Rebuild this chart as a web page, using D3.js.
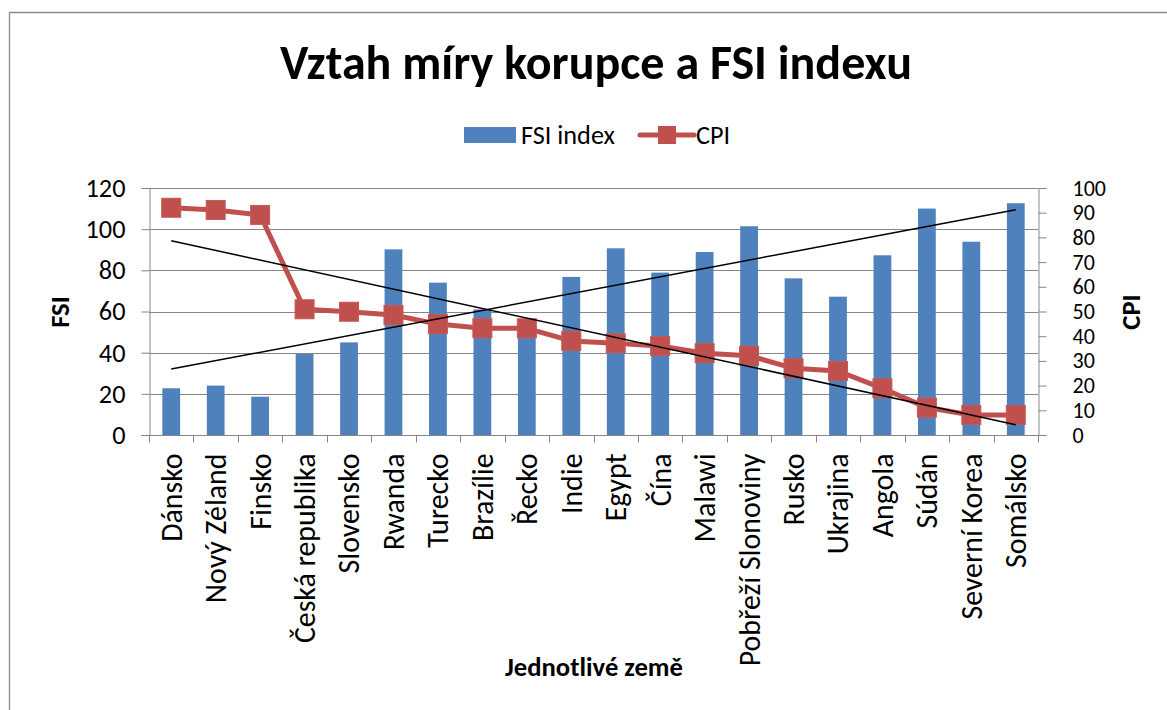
<!DOCTYPE html>
<html><head><meta charset="utf-8">
<script src="https://cdn.jsdelivr.net/npm/d3@7"></script>
<style>
html,body{margin:0;padding:0;background:#fff;}
svg{display:block;}
text{font-family:Carlito, Lato, "Open Sans", sans-serif;fill:#000;}
</style></head>
<body>
<svg id="chart" width="1167" height="710"></svg>
<script>
const categories = ["Dánsko","Nový Zéland","Finsko","Česká republika","Slovensko","Rwanda","Turecko","Brazílie","Řecko","Indie","Egypt","Čína","Malawi","Pobřeží Slonoviny","Rusko","Ukrajina","Angola","Súdán","Severní Korea","Somálsko"];
const fsiValues = [22.7,24.0,18.6,39.4,45.0,90.2,74.0,61.0,56.0,76.8,90.7,78.9,88.9,101.4,76.1,67.2,87.3,110.0,93.9,112.6];
const cpiValues = [92.0,91.1,89.1,50.9,49.9,48.6,44.9,43.2,43.2,38.1,37.1,36.0,33.1,32.1,27.0,25.9,18.9,11.1,8.1,8.1];
const fsiTicks = [0,20,40,60,80,100,120];
const cpiTicks = [0,10,20,30,40,50,60,70,80,90,100];
const titleText = "Vztah míry korupce a FSI indexu";
const seriesNames = ["FSI index","CPI"];
const axisTitles = {left:"FSI", right:"CPI", bottom:"Jednotlivé země"};

const BLUE = "#4F81BD", RED = "#C0504D", GRID = "#868686";
const svg = d3.select("#chart");

function fitSize(str, target, weight, base){
  const t = svg.append("text").attr("font-size", base).attr("font-weight", weight).text(str);
  const w = t.node().getComputedTextLength();
  t.remove();
  return base * target / w;
}

const plot = {left:149, right:1038, top:188, bottom:435};

// outer border
svg.append("path").attr("d", `M9.5,720 L9.5,12.5 L1180,12.5`).attr("fill","none").attr("stroke","#8c8c8c").attr("stroke-width",1.3);

const x = d3.scaleBand().domain(categories).range([plot.left, plot.right]).padding(0);
const yL = d3.scaleLinear().domain([0,120]).range([plot.bottom, plot.top]);
const yR = d3.scaleLinear().domain([0,100]).range([plot.bottom, plot.top]);

const tickSizeL = fitSize("120", 40, "normal", 20);
const tickSizeR = Math.min(tickSizeL, 22);
const catSize = fitSize("Pobřeží Slonoviny", 213, "normal", 20);

// gridlines
svg.append("g").selectAll("line").data(fsiTicks.filter(d=>d>0)).join("line")
  .attr("x1", plot.left).attr("x2", plot.right)
  .attr("y1", d=>Math.round(yL(d))+0.5).attr("y2", d=>Math.round(yL(d))+0.5)
  .attr("stroke", GRID).attr("stroke-width",1);

// left axis
const gL = svg.append("g").attr("transform",`translate(${plot.left+0.5},0)`)
  .call(d3.axisLeft(yL).tickValues(fsiTicks).tickSize(8).tickPadding(16));
gL.select(".domain").attr("stroke",GRID);
gL.selectAll(".tick line").attr("stroke",GRID);
gL.selectAll(".tick text").attr("font-size",tickSizeL).attr("font-family","Carlito, Lato, sans-serif").attr("fill","#000");

// right axis
const gR = svg.append("g").attr("transform",`translate(${plot.right+0.5},0)`)
  .call(d3.axisRight(yR).tickValues(cpiTicks).tickSize(8).tickPadding(26));
gR.select(".domain").attr("stroke",GRID);
gR.selectAll(".tick line").attr("stroke",GRID);
gR.selectAll(".tick text").attr("font-size",tickSizeR).attr("font-family","Carlito, Lato, sans-serif").attr("fill","#000");

// bars
const barW = x.step()*0.4;
svg.append("g").selectAll("rect").data(categories).join("rect")
  .attr("x", d=>x(d)+x.bandwidth()/2-barW/2)
  .attr("width", barW)
  .attr("y", (d,i)=>yL(fsiValues[i]))
  .attr("height", (d,i)=>plot.bottom - yL(fsiValues[i]))
  .attr("fill", BLUE);

// bottom axis
const gB = svg.append("g").attr("transform",`translate(0,${plot.bottom+0.5})`);
gB.append("line").attr("x1",plot.left-8).attr("x2",plot.right+8).attr("stroke",GRID);
const bTicks = d3.range(categories.length+1).map(i=>plot.left + i*x.step());
gB.selectAll(".bt").data(bTicks).join("line").attr("class","bt")
  .attr("x1",d=>Math.round(d)+0.5).attr("x2",d=>Math.round(d)+0.5).attr("y1",0).attr("y2",7).attr("stroke",GRID);
gB.selectAll(".cl").data(categories).join("text").attr("class","cl")
  .attr("transform", d=>`translate(${x(d)+x.bandwidth()/2},18) rotate(-90)`)
  .attr("text-anchor","end").attr("dy","0.35em")
  .attr("font-size", catSize).text(d=>d);

// CPI line
const cx = d => x(d)+x.bandwidth()/2;
svg.append("path").datum(categories)
  .attr("d", d3.line().x(d=>cx(d)).y((d,i)=>yR(cpiValues[i])))
  .attr("fill","none").attr("stroke",RED).attr("stroke-width",5).attr("stroke-linejoin","round");
const ms = 19;
svg.append("g").selectAll("rect").data(categories).join("rect")
  .attr("x", d=>cx(d)-ms/2).attr("y",(d,i)=>yR(cpiValues[i])-ms/2)
  .attr("width",ms).attr("height",ms).attr("fill",RED).attr("stroke","#c65a57").attr("stroke-width",1);

// linear trendlines
function regress(vals){
  const n = vals.length, xs = d3.range(n);
  const mx = d3.mean(xs), my = d3.mean(vals);
  let sxy=0, sxx=0;
  xs.forEach((xi,i)=>{sxy+=(xi-mx)*(vals[i]-my); sxx+=(xi-mx)*(xi-mx);});
  const b = sxy/sxx, a = my - b*mx;
  return [a, a + b*(n-1)];
}
const tF = regress(fsiValues), tC = regress(cpiValues);
const first = categories[0], last = categories[categories.length-1];
svg.append("line").attr("x1",cx(first)).attr("x2",cx(last)).attr("y1",yL(tF[0])).attr("y2",yL(tF[1]))
  .attr("stroke","#000").attr("stroke-width",1.5);
svg.append("line").attr("x1",cx(first)).attr("x2",cx(last)).attr("y1",yR(tC[0])).attr("y2",yR(tC[1]))
  .attr("stroke","#000").attr("stroke-width",1.5);

// title
const titleSize = fitSize(titleText, 632, "bold", 40);
svg.append("text").attr("x",596).attr("y",79).attr("text-anchor","middle")
  .attr("font-weight","bold").attr("font-size",titleSize).text(titleText);

// legend
const legSize = fitSize("FSI index", 94, "normal", 20);
const lg = svg.append("g");
lg.append("rect").attr("x",464).attr("y",127).attr("width",52).attr("height",16).attr("fill",BLUE);
lg.append("text").attr("x",521).attr("y",135).attr("dy","0.35em").attr("font-size",legSize).text(seriesNames[0]);
lg.append("line").attr("x1",640).attr("x2",694).attr("y1",135).attr("y2",135).attr("stroke",RED).attr("stroke-width",5).attr("stroke-linecap","round");
lg.append("rect").attr("x",658).attr("y",126).attr("width",18).attr("height",18).attr("fill",RED);
lg.append("text").attr("x",696).attr("y",135).attr("dy","0.35em").attr("font-size",legSize).text(seriesNames[1]);

// axis titles
const atSize = fitSize(axisTitles.bottom, 178, "bold", 18);
svg.append("text").attr("x",594).attr("y",676).attr("text-anchor","middle").attr("font-weight","bold").attr("font-size",atSize).text(axisTitles.bottom);
svg.append("text").attr("transform","translate(60,312) rotate(-90)").attr("text-anchor","middle").attr("dy","0.35em")
  .attr("font-weight","bold").attr("font-size",atSize).text(axisTitles.left);
svg.append("text").attr("transform","translate(1131,312) rotate(-90)").attr("text-anchor","middle").attr("dy","0.35em")
  .attr("font-weight","bold").attr("font-size",atSize).text(axisTitles.right);
</script>
</body></html>
